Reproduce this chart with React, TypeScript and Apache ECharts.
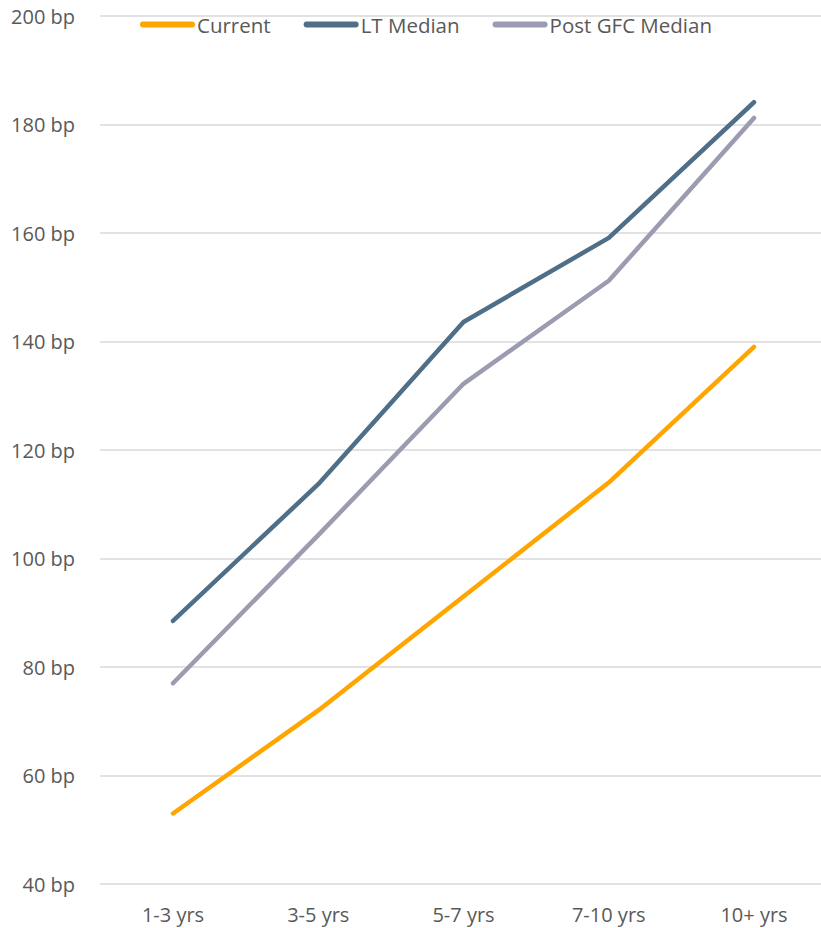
import React, { useEffect, useRef } from "react";
import * as echarts from "echarts";

const categories = ["1-3 yrs", "3-5 yrs", "5-7 yrs", "7-10 yrs", "10+ yrs"];
const current = [53, 72, 93, 114, 139];
const ltMedian = [88.5, 113.7, 143.6, 159.1, 184.1];
const postGfcMedian = [77, 104.3, 132.2, 151.2, 181.2];
const seriesNames = ["Current", "LT Median", "Post GFC Median"];
const colors = ["#FFA500", "#4F6F88", "#9B9BB1"];
const yMin = 40;
const yMax = 200;
const yStep = 20;

const FONT = "'Open Sans', 'Noto Sans', sans-serif";

export default function App() {
  const ref = useRef<HTMLDivElement>(null);
  useEffect(() => {
    document.body.style.margin = "0";
    const chart = echarts.init(ref.current!, undefined, { renderer: "svg" });
    const data = [current, ltMedian, postGfcMedian];
    chart.setOption({
      animation: false,
      backgroundColor: "#ffffff",
      textStyle: { fontFamily: FONT },
      legend: {
        top: 9,
        left: 135,
        itemWidth: 55,
        itemHeight: 6,
        itemGap: 33,
        icon: "path://M3,0 H52 A3,3 0 0 1 52,6 H3 A3,3 0 0 1 3,0 Z",
        textStyle: { fontSize: 20.5, color: "#595959", fontFamily: FONT, padding: [0, 0, 0, -3] },
        data: seriesNames,
      },
      grid: [
        { left: 100, right: 0, top: 16, bottom: 44, containLabel: false },
        { left: 173, right: 67, top: 16, bottom: 44, containLabel: false },
      ],
      xAxis: [
        {
          gridIndex: 0,
          type: "category",
          data: categories,
          show: false,
        },
        {
          gridIndex: 1,
          type: "category",
          data: categories,
          boundaryGap: false,
          axisLine: { show: false },
          axisTick: { show: false },
          splitLine: { show: false },
          axisLabel: { color: "#595959", fontSize: 20, margin: 20, fontFamily: FONT },
        },
      ],
      yAxis: [
        {
          gridIndex: 0,
          type: "value",
          min: yMin,
          max: yMax,
          interval: yStep,
          axisLine: { show: false },
          axisTick: { show: false },
          splitLine: { lineStyle: { color: "#D9D9D9", width: 1.5 } },
          axisLabel: {
            color: "#595959",
            fontSize: 20,
            margin: 25,
            fontFamily: FONT,
            formatter: (v: number) => `${v} bp`,
          },
        },
        {
          gridIndex: 1,
          type: "value",
          min: yMin,
          max: yMax,
          interval: yStep,
          show: false,
          splitLine: { show: false },
        },
      ],
      series: data.map((d, i) => ({
        name: seriesNames[i],
        type: "line",
        xAxisIndex: 1,
        yAxisIndex: 1,
        data: d,
        showSymbol: false,
        symbol: "none",
        color: colors[i],
        lineStyle: { color: colors[i], width: 4.5, cap: "round", join: "round" },
        z: i === 0 ? 4 : 3 - i + 1,
      })),
    });
    return () => chart.dispose();
  }, []);
  return <div ref={ref} style={{ width: 821, height: 928 }} />;
}
